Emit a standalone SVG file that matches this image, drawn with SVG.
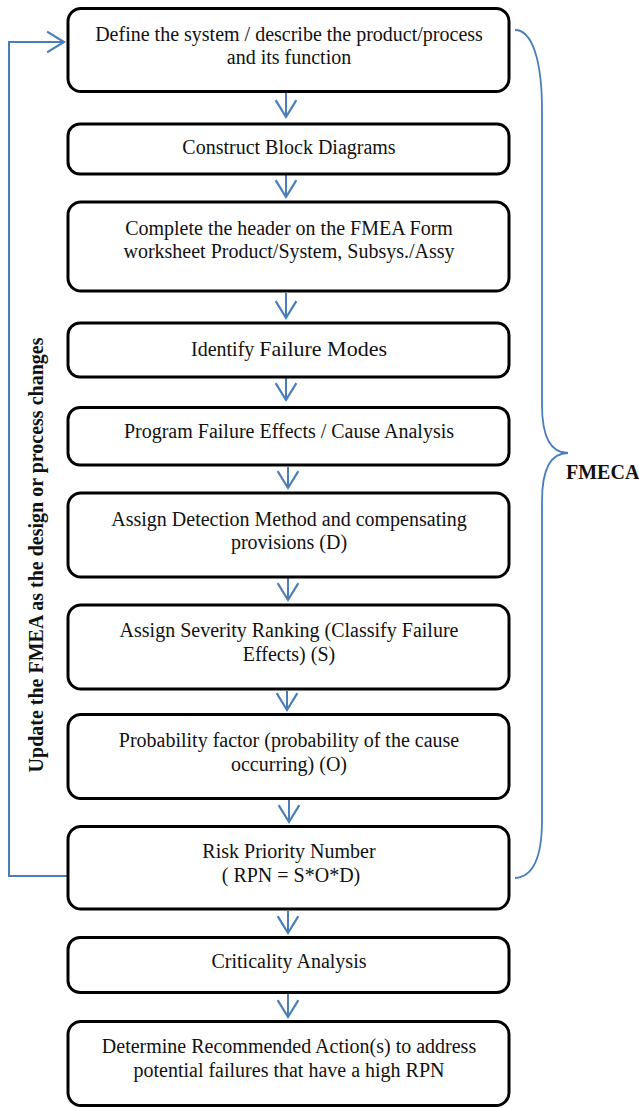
<svg xmlns="http://www.w3.org/2000/svg" width="639" height="1108" viewBox="0 0 639 1108">
  <style>
    .box { fill: #ffffff; stroke: #000000; stroke-width: 3; }
    .lbl { font-family: "Liberation Serif", "Times New Roman", serif; font-size: 20px; fill: #111111; text-anchor: middle; }
    .big { font-size: 22px; }
    .side { font-family: "Liberation Serif", "Times New Roman", serif; font-size: 20px; font-weight: bold; fill: #111111; }
    .flow { fill: none; stroke: #4A7EBB; stroke-width: 2; }
    .brace { fill: none; stroke: #4A7EBB; stroke-width: 1.8; }
  </style>
  <defs>
    <marker id="openArrow" markerUnits="userSpaceOnUse" orient="auto" refX="0" refY="0" markerWidth="20" markerHeight="24" viewBox="-17 -11 18 22" overflow="visible">
      <path d="M-15.5,-9.5 L0,0 L-15.5,9.5" fill="none" stroke="#4A7EBB" stroke-width="2"/>
    </marker>
  </defs>

  <rect width="639" height="1108" fill="#ffffff"/>

  <!-- connectors -->
  <g id="connectors">
    <line class="flow" x1="286" y1="93" x2="286" y2="117" marker-end="url(#openArrow)"/>
    <line class="flow" x1="286" y1="175" x2="286" y2="197" marker-end="url(#openArrow)"/>
    <line class="flow" x1="286" y1="293" x2="286" y2="318" marker-end="url(#openArrow)"/>
    <line class="flow" x1="286" y1="378" x2="286" y2="400" marker-end="url(#openArrow)"/>
    <line class="flow" x1="288" y1="467" x2="288" y2="488" marker-end="url(#openArrow)"/>
    <line class="flow" x1="288" y1="578" x2="288" y2="600" marker-end="url(#openArrow)"/>
    <line class="flow" x1="287" y1="691" x2="287" y2="710" marker-end="url(#openArrow)"/>
    <line class="flow" x1="289" y1="800" x2="289" y2="822" marker-end="url(#openArrow)"/>
    <line class="flow" x1="288" y1="911" x2="288" y2="933" marker-end="url(#openArrow)"/>
    <line class="flow" x1="288" y1="994" x2="288" y2="1017" marker-end="url(#openArrow)"/>
    <!-- loop back to the first step -->
    <polyline class="flow" points="67,876 9,876 9,42 64,42" marker-end="url(#openArrow)"/>
    <!-- brace spanning the FMECA steps -->
    <path class="brace" d="M515,30 C532,30 542,60 542,110 L542,405 C542,437 551,453 568,453 C551,453 542,469 542,501 L542,820 C542,860 532,877 515,878"/>
  </g>

  <g id="node-define">
    <rect class="box" x="68" y="8.5" width="441" height="83" rx="13"/>
    <text class="lbl" x="289" y="41">Define the system / describe the product/process</text>
    <text class="lbl" x="289" y="64">and its function</text>
  </g>

  <g id="node-block">
    <rect class="box" x="68" y="124" width="441" height="50" rx="12"/>
    <text class="lbl" x="289" y="154">Construct Block Diagrams</text>
  </g>

  <g id="node-header">
    <rect class="box" x="68" y="202" width="441" height="89" rx="13"/>
    <text class="lbl" x="289" y="235">Complete the header on the FMEA Form</text>
    <text class="lbl" x="289" y="258">worksheet Product/System, Subsys./Assy</text>
  </g>

  <g id="node-modes">
    <rect class="box" x="68" y="323" width="441" height="54" rx="12"/>
    <text class="lbl" x="289" y="356">Identify <tspan class="big">Failure Modes</tspan></text>
  </g>

  <g id="node-effects">
    <rect class="box" x="68" y="407.5" width="441" height="57.5" rx="12"/>
    <text class="lbl" x="289" y="438">Program Failure Effects / Cause Analysis</text>
  </g>

  <g id="node-detection">
    <rect class="box" x="68" y="493" width="441" height="84" rx="13"/>
    <text class="lbl" x="289" y="526">Assign Detection Method and compensating</text>
    <text class="lbl" x="289" y="549">provisions (D)</text>
  </g>

  <g id="node-severity">
    <rect class="box" x="68" y="605" width="441" height="84" rx="13"/>
    <text class="lbl" x="289" y="637">Assign Severity Ranking (Classify Failure</text>
    <text class="lbl" x="289" y="661">Effects) (S)</text>
  </g>

  <g id="node-probability">
    <rect class="box" x="68" y="714.5" width="441" height="84" rx="13"/>
    <text class="lbl" x="289" y="747">Probability factor (probability of the cause</text>
    <text class="lbl" x="289" y="771">occurring) (O)</text>
  </g>

  <g id="node-rpn">
    <rect class="box" x="68" y="826.5" width="441" height="82.5" rx="13"/>
    <text class="lbl" x="289" y="858">Risk Priority Number</text>
    <text class="lbl" x="291" y="882">( RPN = S*O*D)</text>
  </g>

  <g id="node-criticality">
    <rect class="box" x="68" y="937.5" width="441" height="55" rx="12"/>
    <text class="lbl" x="289" y="968">Criticality Analysis</text>
  </g>

  <g id="node-action">
    <rect class="box" x="68" y="1021.5" width="441" height="84" rx="13"/>
    <text class="lbl" x="289" y="1053">Determine Recommended Action(s) to address</text>
    <text class="lbl" x="289" y="1077">potential failures that have a high RPN</text>
  </g>

  <g id="label-fmeca">
    <text class="side" x="566" y="479">FMECA</text>
  </g>

  <g id="label-update">
    <text class="side" text-anchor="middle" transform="translate(43,555) rotate(-90)">Update the FMEA as the design or process changes</text>
  </g>
</svg>
